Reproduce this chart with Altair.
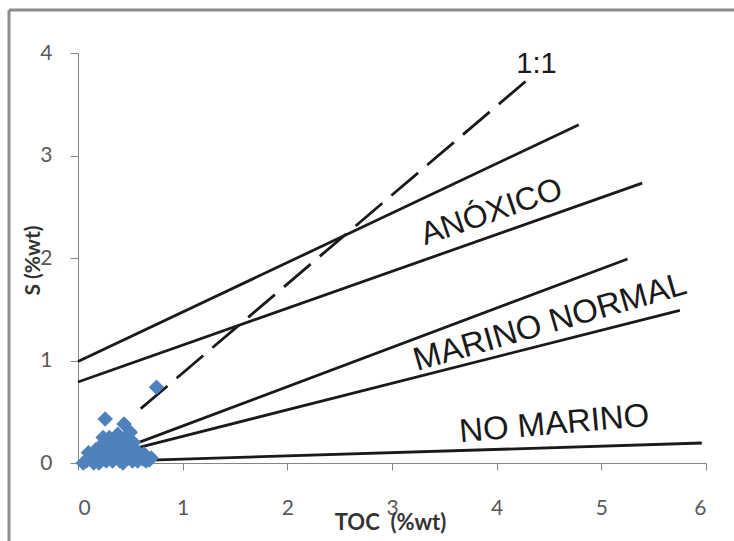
import altair as alt
import pandas as pd

# ---- data ----
toc = [0.08, 0.12, 0.15, 0.18, 0.20, 0.22, 0.25, 0.26, 0.28, 0.30, 0.30, 0.32, 0.33, 0.35,
       0.36, 0.38, 0.40, 0.40, 0.42, 0.44, 0.45, 0.46, 0.48, 0.50, 0.50, 0.52, 0.53, 0.55,
       0.57, 0.60, 0.62, 0.65, 0.68, 0.75, 0.20, 0.27, 0.34, 0.43, 0.15, 0.24,
       0.10, 0.17, 0.23, 0.29, 0.37, 0.41, 0.47, 0.53, 0.58, 0.63, 0.70, 0.05, 0.31, 0.39]
s = [0.02, 0.05, 0.08, 0.04, 0.12, 0.15, 0.10, 0.43, 0.20, 0.25, 0.05, 0.18, 0.02, 0.22,
     0.12, 0.28, 0.08, 0.02, 0.18, 0.38, 0.12, 0.25, 0.05, 0.30, 0.15, 0.02, 0.10, 0.08,
     0.02, 0.05, 0.04, 0.02, 0.03, 0.74, 0.00, 0.02, 0.06, 0.00, 0.00, 0.25,
     0.10, 0.13, 0.18, 0.10, 0.17, 0.22, 0.15, 0.20, 0.10, 0.09, 0.05, 0.00, 0.14, 0.06]

line_ids = ["L1", "L1", "L2", "L2", "L3", "L3", "L4", "L4", "L5", "L5"]
line_x = [0.0, 4.785, 0.0, 5.39, 0.5, 5.25, 0.5, 5.75, 0.3, 5.96]
line_y = [0.99, 3.30, 0.79, 2.73, 0.17, 1.99, 0.13, 1.49, 0.015, 0.195]

dash_x = [0.6, 4.33]
dash_y = [0.53, 3.77]

label_text = ["ANÓXICO", "MARINO NORMAL", "NO MARINO"]
label_x = [3.95, 4.51, 4.55]
label_y = [2.45, 1.37, 0.38]
label_angle = [341, 344, 355]
label_size = [32, 33, 33]

ratio_text = ["1:1"]
ratio_x = [4.38]
ratio_y = [3.89]

x_ticks = [0, 1, 2, 3, 4, 5, 6]
y_ticks = [0, 1, 2, 3, 4]

# ---- frames ----
pts = pd.DataFrame({"toc": toc, "s": s})
lines = pd.DataFrame({"id": line_ids, "toc": line_x, "s": line_y})
dash = pd.DataFrame({"toc": dash_x, "s": dash_y})
labels = pd.DataFrame({"t": label_text, "toc": label_x, "s": label_y, "a": label_angle,
                       "fs": label_size})
ratio = pd.DataFrame({"t": ratio_text, "toc": ratio_x, "s": ratio_y})

xscale = alt.Scale(domain=[0, 6], nice=False, zero=False)
yscale = alt.Scale(domain=[0, 4], nice=False, zero=False)

xaxis = alt.Axis(values=x_ticks, format="d", grid=False, title="TOC\u00a0\u00a0(%wt)",
                 labelFont="Lato", labelFontSize=21, labelColor="#595959", labelPadding=27,
                 tickSize=7, tickColor="#868686", domainColor="#868686", titleFont="Lato",
                 titleFontSize=22, titleFontWeight="bold", titleColor="#333333",
                 titleX=312, titleY=59, titleBaseline="middle", titleAnchor="middle")
yaxis = alt.Axis(values=y_ticks, format="d", grid=False, title="S (%wt)", labelFont="Lato",
                 labelFontSize=21, labelColor="#595959", labelPadding=18, tickSize=8,
                 tickColor="#868686", domainColor="#868686", titleFont="Lato",
                 titleFontSize=21, titleFontWeight="bold", titleColor="#333333",
                 titleX=-45, titleY=207, titleBaseline="middle", titleAngle=270)

base_x = alt.X("toc:Q", scale=xscale, axis=xaxis)
base_y = alt.Y("s:Q", scale=yscale, axis=yaxis)

solid = alt.Chart(lines).mark_line(color="#1a1a1a", strokeWidth=2.8, clip=False).encode(
    x=base_x, y=base_y, detail="id:N")

dashed = alt.Chart(dash).mark_line(color="#1a1a1a", strokeWidth=2.8,
                                   strokeDash=[35, 12]).encode(
    x=alt.X("toc:Q", scale=xscale), y=alt.Y("s:Q", scale=yscale))

points = alt.Chart(pts).mark_point(shape="diamond", filled=True, size=240,
                                   color="#4F81BD", opacity=1).encode(
    x=alt.X("toc:Q", scale=xscale), y=alt.Y("s:Q", scale=yscale))

region_text = alt.Chart(labels).mark_text(font="Liberation Sans",
                                          color="#1a1a1a", align="center",
                                          baseline="middle").encode(
    x=alt.X("toc:Q", scale=xscale), y=alt.Y("s:Q", scale=yscale),
    text="t:N", angle=alt.Angle("a:Q", scale=None), size=alt.Size("fs:Q", scale=None))

ratio_lbl = alt.Chart(ratio).mark_text(font="Liberation Sans", fontSize=29,
                                       color="#1a1a1a", align="center",
                                       baseline="middle").encode(
    x=alt.X("toc:Q", scale=xscale), y=alt.Y("s:Q", scale=yscale), text="t:N")

frame_top = alt.Chart(pd.DataFrame({"k": [0]})).mark_rule(color="#8c8c8c", strokeWidth=3).encode(
    x=alt.value(-69), x2=alt.value(660), y=alt.value(-43))
frame_left = alt.Chart(pd.DataFrame({"k": [0]})).mark_rule(color="#8c8c8c", strokeWidth=3).encode(
    x=alt.value(-69), y=alt.value(-43), y2=alt.value(490))

chart = alt.layer(solid, dashed, points, region_text, ratio_lbl, frame_top, frame_left).properties(
    width=628, height=410,
    autosize=alt.AutoSizeParams(type="none"),
    padding={"left": 78, "top": 53, "right": 28, "bottom": 78},
    background="white",
).configure_view(stroke=None)

chart.save("out.html", embed_options={"renderer": "svg", "actions": False})
